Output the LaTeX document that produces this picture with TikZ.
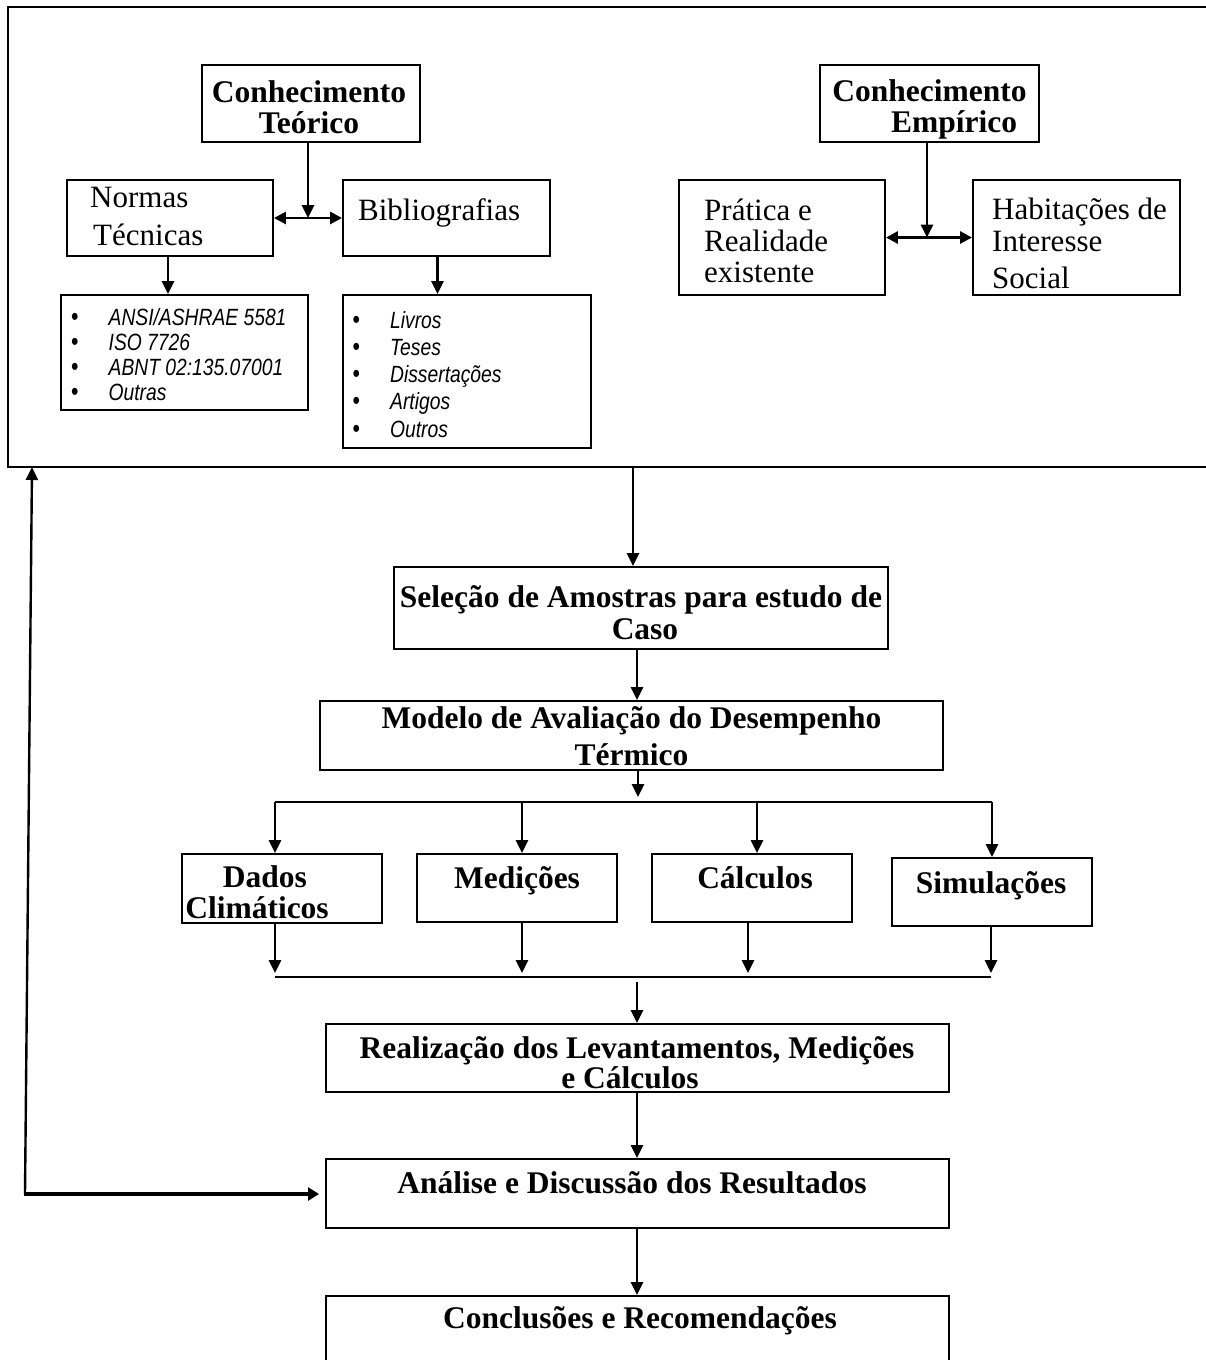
\documentclass[tikz,border=0pt]{standalone}
\usepackage{fontspec}
\setmainfont{Liberation Serif}
\setsansfont{Liberation Sans}
\newfontfamily\listfam{Liberation Sans}[FakeStretch=0.82]
\usetikzlibrary{arrows.meta,fit,calc}
\newcommand\mkbox[5]{%
  \coordinate (#1-a) at (#2,#3);
  \coordinate (#1-b) at (#4,#5);
  \node[box, fit=(#1-a)(#1-b)] (#1) {};}
\newcommand\bigb{\fontsize{31.5}{31}\selectfont\bfseries}
\newcommand\bul{{\upshape\fontsize{26}{25}\selectfont •}}
\begin{document}
\begin{tikzpicture}[x=1pt,y=-1pt,
  box/.style={draw, line width=1.9pt, inner sep=0pt},
  arr/.style={line width=2.8pt, -{Triangle[width=12pt,length=13pt]}},
  darr/.style={line width=2.8pt, {Triangle[width=12pt,length=12pt]}-{Triangle[width=12pt,length=12pt]}},
  bar/.style={line width=2.1pt},
  txt/.style={inner sep=0pt, anchor=base}]
\useasboundingbox (0,0) rectangle (1206,1360);
\clip (0,0) rectangle (1206,1360);
\fill[white] (0,0) rectangle (1206,1360);

% ---------- boxes ----------
\mkbox{frame}{8}{7}{1214}{467}
\mkbox{teo}{202}{65}{420}{142}
\mkbox{nor}{67}{180}{273}{256}
\mkbox{bib}{343}{180}{550}{256}
\mkbox{lnor}{61}{295}{308}{410}
\mkbox{lbib}{343}{295}{591}{448}
\mkbox{emp}{820}{65}{1039}{142}
\mkbox{pra}{679}{180}{885}{295}
\mkbox{hab}{973}{180}{1180}{295}
\mkbox{sel}{394}{567}{888}{649}
\mkbox{mod}{320}{701}{943}{770}
\mkbox{dad}{182}{854}{382}{923}
\mkbox{med}{417}{854}{617}{922}
\mkbox{cal}{652}{854}{852}{922}
\mkbox{sim}{892}{858}{1092}{926}
\mkbox{rea}{326}{1024}{949}{1092}
\mkbox{ana}{326}{1159}{949}{1228}
\mkbox{con}{326}{1296}{949}{1385}

% ---------- texts ----------
\node[txt] (teo-t) at (309,102) {\bigb\begin{tabular}[t]{@{}c@{}}Conhecimento\\Teórico\end{tabular}};
\node[txt] (emp-t) at (929.5,101) {\bigb\begin{tabular}[t]{@{}c@{}}Conhecimento\\\hspace*{49pt}Empírico\end{tabular}};
\node[txt, anchor=base west] (nor-t) at (90,207) {\fontsize{31}{38}\selectfont\begin{tabular}[t]{@{}l@{}}Normas\\\hspace*{3pt}Técnicas\end{tabular}};
\node[txt, anchor=base west] (bib-t) at (358,220) {\fontsize{31}{31}\selectfont Bibliografias};
\node[txt, anchor=base west] (pra-t) at (704,220) {\fontsize{31}{31}\selectfont\begin{tabular}[t]{@{}l@{}}Prática e\\Realidade\\existente\end{tabular}};
\node[txt, anchor=base west] (hab-t) at (992,219) {\fontsize{31}{32}\selectfont\begin{tabular}[t]{@{}l@{}}Habitações de\\Interesse\\[5pt]Social\end{tabular}};
\node[txt, anchor=base west] (lnor-t) at (71,325) {\listfam\itshape\fontsize{23.5}{25}\selectfont\begin{tabular}[t]{@{}l@{\hspace{30pt}}l@{}}\bul&ANSI/ASHRAE 5581\\\bul&ISO 7726\\\bul&ABNT 02:135.07001\\\bul&Outras\end{tabular}};
\node[txt, anchor=base west] (lbib-t) at (352.5,328) {\listfam\itshape\fontsize{23.5}{27.3}\selectfont\begin{tabular}[t]{@{}l@{\hspace{30pt}}l@{}}\bul&Livros\\\bul&Teses\\\bul&Dissertações\\\bul&Artigos\\\bul&Outros\end{tabular}};

\node[txt] (sel-t) at (641,607) {\fontsize{31.5}{32}\selectfont\bfseries\begin{tabular}[t]{@{}c@{}}Seleção de Amostras para estudo de\\\hspace*{8pt}Caso\end{tabular}};
\node[txt] (mod-t) at (631.5,728) {\fontsize{31.5}{37}\selectfont\bfseries\begin{tabular}[t]{@{}c@{}}Modelo de Avaliação do Desempenho\\Térmico\end{tabular}};
\node[txt] (dad-t) at (257,887) {\fontsize{31.5}{31}\selectfont\bfseries\begin{tabular}[t]{@{}c@{}}\hspace*{16pt}Dados\\Climáticos\end{tabular}};
\node[txt] (med-t) at (517,888) {\fontsize{31.5}{31}\selectfont\bfseries Medições};
\node[txt] (cal-t) at (755,888) {\fontsize{31.5}{31}\selectfont\bfseries Cálculos};
\node[txt] (sim-t) at (991,893) {\fontsize{31.5}{31}\selectfont\bfseries Simulações};
\node[txt] (rea-t) at (637,1058) {\fontsize{31.5}{29}\selectfont\bfseries\begin{tabular}[t]{@{}c@{}}Realização dos Levantamentos, Medições\\e Cálculos\hspace*{14pt}\end{tabular}};
\node[txt] (ana-t) at (632,1193) {\fontsize{31.5}{31}\selectfont\bfseries Análise e Discussão dos Resultados};
\node[txt] (con-t) at (640,1328) {\fontsize{31.5}{31}\selectfont\bfseries Conclusões e Recomendações};

% ---------- connectors (top) ----------
\draw[arr] ([xshift=-3pt]teo.south) -- ([xshift=-3pt]teo.south |- nor.east);
\draw[darr] (nor.east) -- (bib.west);
\draw[arr] ([xshift=-2pt]nor.south) -- ([xshift=-2pt]nor.south |- lnor.north);
\draw[arr] ([xshift=-9pt]bib.south) -- ([xshift=-9pt]bib.south |- lbib.north);
\draw[arr] ([xshift=-2.5pt]emp.south) -- ([xshift=-2.5pt]emp.south |- pra.east);
\draw[darr] (pra.east) -- (hab.west);

% ---------- connectors (flow) ----------
\coordinate (spine) at (637,0);
\draw[arr] ([xshift=-8pt]sel.north |- frame.south) -- ([xshift=-8pt]sel.north);
\draw[arr] (sel.south -| spine) -- (mod.north -| spine);
\coordinate (j1) at (638,797);
\draw[arr] (mod.south -| j1) -- (j1);
\coordinate (b1) at (275,802);
\coordinate (b2) at (522,802);
\coordinate (b3) at (757,802);
\coordinate (b4) at (992,802);
\draw[bar] (b1) -- (b4);
\draw[arr] (b1) -- (b1 |- dad.north);
\draw[arr] (b2) -- (b2 |- med.north);
\draw[arr] (b3) -- (b3 |- cal.north);
\draw[arr] (b4) -- (b4 |- sim.north);
\coordinate (c1) at (275,977);
\coordinate (c2) at (522,977);
\coordinate (c3) at (748,977);
\coordinate (c4) at (991,977);
\draw[arr, shorten >=4pt] (c1 |- dad.south) -- (c1);
\draw[arr, shorten >=4pt] (c2 |- med.south) -- (c2);
\draw[arr, shorten >=4pt] (c3 |- cal.south) -- (c3);
\draw[arr, shorten >=4pt] (c4 |- sim.south) -- (c4);
\draw[bar] (c1) -- (c4);
\draw[arr] ([yshift=-5pt]spine |- c1) -- (rea.north -| spine);
\draw[arr] (rea.south -| spine) -- (ana.north -| spine);
\draw[arr] (ana.south -| spine) -- (con.north -| spine);

% ---------- feedback ----------
\coordinate (fb) at (25,1194);
\coordinate (fbtop) at (32,467);
\draw[arr, line width=2.4pt] (fb) -- (fbtop);
\draw[line width=3.8pt, -{Triangle[width=13pt,length=11pt]}, shorten >=6pt] ([xshift=-1.2pt]fb) -- (ana.west |- fb);
\end{tikzpicture}
\end{document}
